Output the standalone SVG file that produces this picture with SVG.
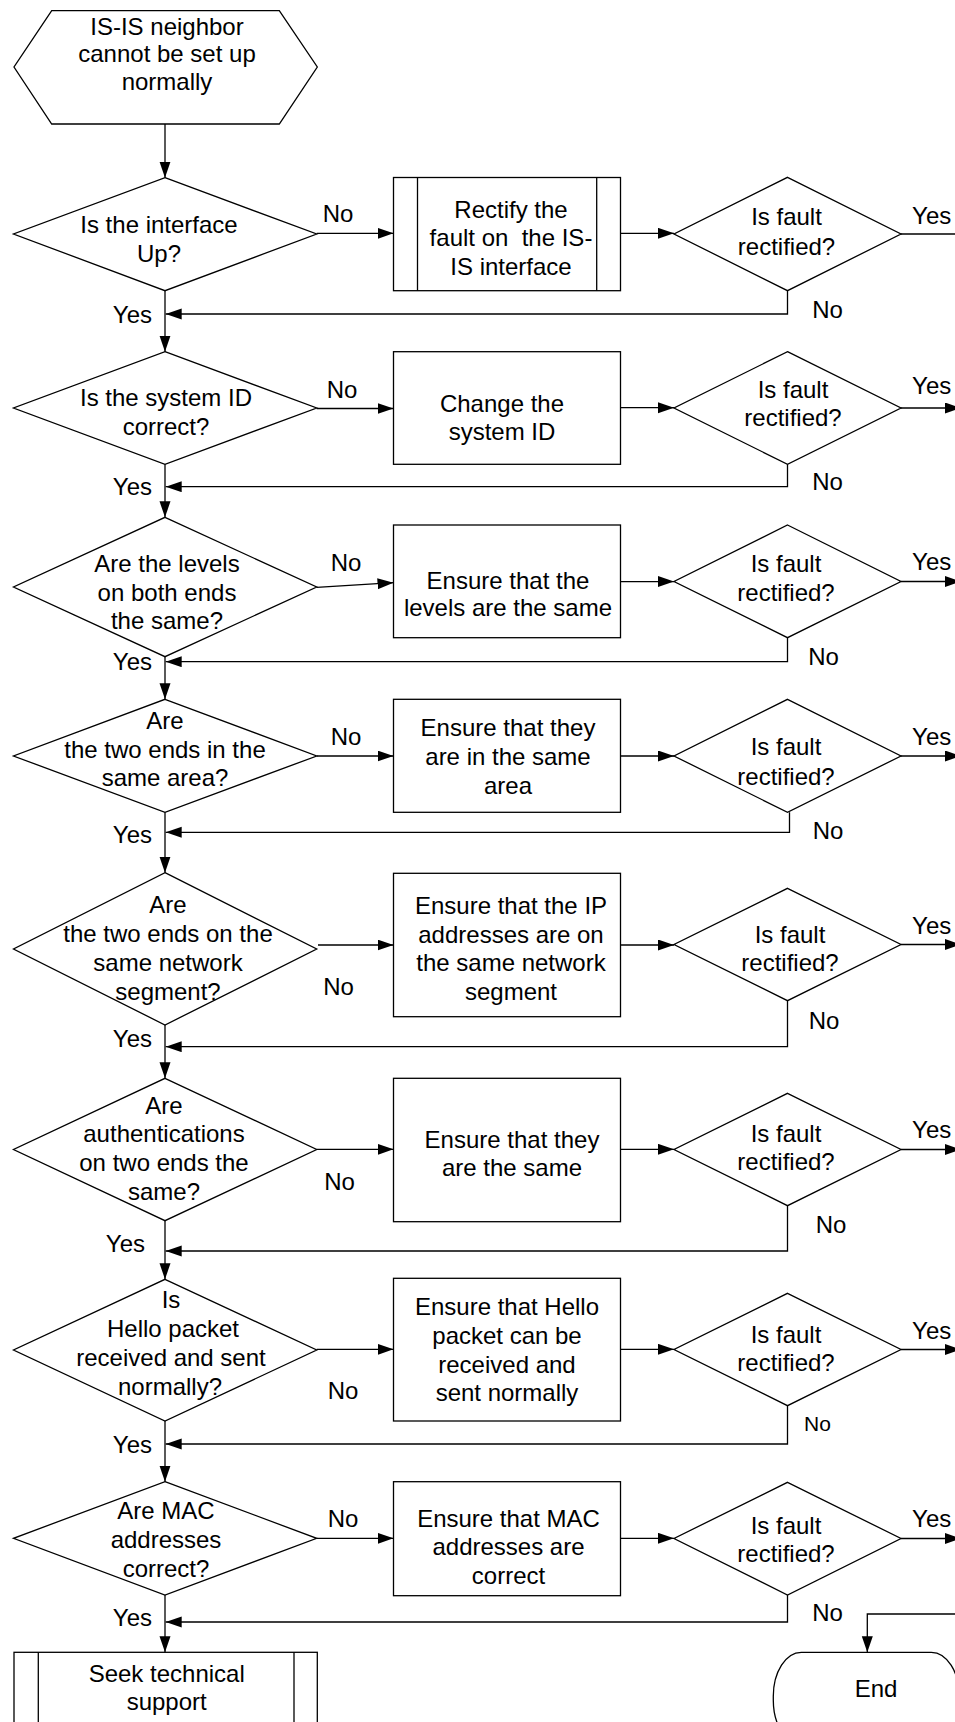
<svg xmlns="http://www.w3.org/2000/svg" width="955" height="1722" viewBox="0 0 955 1722">
<defs>
<marker id="ah" markerUnits="userSpaceOnUse" markerWidth="17" markerHeight="12" refX="16" refY="5.5" orient="auto"><path d="M0,0 L16,5.5 L0,11 z" fill="#000"/></marker>
<style>
.s{fill:#fff;stroke:#000;stroke-width:1.3}
.c{fill:none;stroke:#000;stroke-width:1.3}
text{font-family:"Liberation Sans",Arial,sans-serif;font-size:24px;fill:#000;text-anchor:middle}
.e{text-anchor:end}
.sm{font-size:21px}
</style>
</defs>
<rect width="955" height="1722" fill="#fff"/>

<g id="start">
<polygon class="s" points="51.7,10.7 279.3,10.7 317.3,67 279.3,124 51.7,124 14,67"/>
<text x="167" y="34.5">IS-IS neighbor</text>
<text x="167" y="62">cannot be set up</text>
<text x="167" y="89.5">normally</text>
</g>

<g id="d1">
<polygon class="s" points="165,177.7 316.7,234 165,290.7 13.5,234"/>
<text x="159" y="233">Is the interface</text>
<text x="159" y="261.5">Up?</text>
</g>
<g id="p1">
<rect class="s" x="393.5" y="177.5" width="227" height="113.2"/>
<line class="c" x1="417.5" y1="177.5" x2="417.5" y2="290.7"/>
<line class="c" x1="596.7" y1="177.5" x2="596.7" y2="290.7"/>
<text x="511" y="217.8">Rectify the</text>
<text x="511" y="245.8" xml:space="preserve">fault on  the IS-</text>
<text x="511" y="274.5">IS interface</text>
</g>
<g id="f1">
<polygon class="s" points="787.5,177.3 901,234 787.5,290.7 674,234"/>
<text x="786.5" y="225.2">Is fault</text>
<text x="786.5" y="255.2">rectified?</text>
</g>

<g id="d2">
<polygon class="s" points="165,351.7 316.7,408 165,464.3 13.5,408"/>
<text x="166" y="405.8">Is the system ID</text>
<text x="166" y="435.2">correct?</text>
</g>
<g id="p2">
<rect class="s" x="393.5" y="351.7" width="227" height="112.6"/>
<text x="502" y="411.8">Change the</text>
<text x="502" y="440.2">system ID</text>
</g>
<g id="f2">
<polygon class="s" points="787.5,351.7 901,408 787.5,464.3 674,408"/>
<text x="793" y="397.8">Is fault</text>
<text x="793" y="426.2">rectified?</text>
</g>

<g id="d3">
<polygon class="s" points="165,517.3 316.7,587 165,656.7 13.5,587"/>
<text x="167" y="571.8">Are the levels</text>
<text x="167" y="600.8">on both ends</text>
<text x="167" y="629.2">the same?</text>
</g>
<g id="p3">
<rect class="s" x="393.5" y="525" width="227" height="112.7"/>
<text x="508" y="588.5">Ensure that the</text>
<text x="508" y="615.8">levels are the same</text>
</g>
<g id="f3">
<polygon class="s" points="787.5,525 901,581.5 787.5,637.7 674,581.5"/>
<text x="786" y="571.8">Is fault</text>
<text x="786" y="600.8">rectified?</text>
</g>

<g id="d4">
<polygon class="s" points="165,699.3 316.7,756 165,812.3 13.5,756"/>
<text x="165" y="728.5">Are</text>
<text x="165" y="757.8">the two ends in the</text>
<text x="165" y="786.2">same area?</text>
</g>
<g id="p4">
<rect class="s" x="393.5" y="699.3" width="227" height="113"/>
<text x="508" y="736.2">Ensure that they</text>
<text x="508" y="765.2">are in the same</text>
<text x="508" y="793.5">area</text>
</g>
<g id="f4">
<polygon class="s" points="787.5,699.3 901,756 787.5,812.3 674,756"/>
<text x="786" y="755.2">Is fault</text>
<text x="786" y="784.5">rectified?</text>
</g>

<g id="d5">
<polygon class="s" points="165,872.7 316.7,949 165,1025 13.5,949"/>
<text x="168" y="912.5">Are</text>
<text x="168" y="941.8">the two ends on the</text>
<text x="168" y="970.8">same network</text>
<text x="168" y="999.5">segment?</text>
</g>
<g id="p5">
<rect class="s" x="393.5" y="873.3" width="227" height="143.4"/>
<text x="511" y="913.5">Ensure that the IP</text>
<text x="511" y="942.5">addresses are on</text>
<text x="511" y="970.8">the same network</text>
<text x="511" y="999.5">segment</text>
</g>
<g id="f5">
<polygon class="s" points="787.5,888.3 901,944.5 787.5,1000.7 674,944.5"/>
<text x="790" y="942.5">Is fault</text>
<text x="790" y="971.2">rectified?</text>
</g>

<g id="d6">
<polygon class="s" points="165,1078.3 316.7,1149.5 165,1220.7 13.5,1149.5"/>
<text x="164" y="1113.5">Are</text>
<text x="164" y="1141.8">authentications</text>
<text x="164" y="1170.8">on two ends the</text>
<text x="164" y="1199.5">same?</text>
</g>
<g id="p6">
<rect class="s" x="393.5" y="1078.3" width="227" height="143.4"/>
<text x="512" y="1147.8">Ensure that they</text>
<text x="512" y="1175.8">are the same</text>
</g>
<g id="f6">
<polygon class="s" points="787.5,1093.3 901,1149.5 787.5,1205.7 674,1149.5"/>
<text x="786" y="1141.8">Is fault</text>
<text x="786" y="1170.2">rectified?</text>
</g>

<g id="d7">
<polygon class="s" points="165,1279.3 316.7,1350 165,1421 13.5,1350"/>
<text x="171" y="1307.8">Is</text>
<text x="173" y="1336.8">Hello packet</text>
<text x="171" y="1365.8">received and sent</text>
<text x="170" y="1394.5">normally?</text>
</g>
<g id="p7">
<rect class="s" x="393.5" y="1278.3" width="227" height="142.7"/>
<text x="507" y="1315.2">Ensure that Hello</text>
<text x="507" y="1343.5">packet can be</text>
<text x="507" y="1372.5">received and</text>
<text x="507" y="1401.2">sent normally</text>
</g>
<g id="f7">
<polygon class="s" points="787.5,1293.3 901,1349.5 787.5,1405.7 674,1349.5"/>
<text x="786" y="1342.8">Is fault</text>
<text x="786" y="1371.2">rectified?</text>
</g>

<g id="d8">
<polygon class="s" points="165,1481.7 316.7,1538.3 165,1595 13.5,1538.3"/>
<text x="166" y="1518.5">Are MAC</text>
<text x="166" y="1547.8">addresses</text>
<text x="166" y="1576.8">correct?</text>
</g>
<g id="p8">
<rect class="s" x="393.5" y="1481.7" width="227" height="114"/>
<text x="508.5" y="1526.8">Ensure that MAC</text>
<text x="508.5" y="1555.2">addresses are</text>
<text x="508.5" y="1583.5">correct</text>
</g>
<g id="f8">
<polygon class="s" points="787.5,1482.3 901,1538.5 787.5,1595 674,1538.5"/>
<text x="786" y="1533.5">Is fault</text>
<text x="786" y="1561.8">rectified?</text>
</g>

<g id="support">
<rect class="s" x="14" y="1652.3" width="303.3" height="90"/>
<line class="c" x1="38.3" y1="1652.3" x2="38.3" y2="1742"/>
<line class="c" x1="294" y1="1652.3" x2="294" y2="1742"/>
<text x="166.7" y="1682">Seek technical</text>
<text x="166.7" y="1710">support</text>
</g>

<g id="end">
<rect class="s" x="773.3" y="1652.3" width="186" height="92" rx="28" ry="44"/>
<text x="876" y="1696.7">End</text>
</g>

<g id="connectors">
<path class="c" d="M165,124 V177.7" marker-end="url(#ah)"/>
<path class="c" d="M165,290.7 V351.7" marker-end="url(#ah)"/>
<path class="c" d="M165,464.3 V517.3" marker-end="url(#ah)"/>
<path class="c" d="M165,656.7 V699.3" marker-end="url(#ah)"/>
<path class="c" d="M165,812.3 V872.7" marker-end="url(#ah)"/>
<path class="c" d="M165,1025 V1078.3" marker-end="url(#ah)"/>
<path class="c" d="M165,1220.7 V1279.3" marker-end="url(#ah)"/>
<path class="c" d="M165,1421 V1481.7" marker-end="url(#ah)"/>
<path class="c" d="M165,1595 V1652.3" marker-end="url(#ah)"/>

<path class="c" d="M316.7,233.3 H393.5" marker-end="url(#ah)"/>
<path class="c" d="M316.7,408.5 H393.5" marker-end="url(#ah)"/>
<path class="c" d="M316.7,587.3 L393.5,582.7" marker-end="url(#ah)"/>
<path class="c" d="M316.7,756 H393.5" marker-end="url(#ah)"/>
<path class="c" d="M318,945 H393.5" marker-end="url(#ah)"/>
<path class="c" d="M316.7,1149.3 H393.5" marker-end="url(#ah)"/>
<path class="c" d="M316.7,1349.3 H393.5" marker-end="url(#ah)"/>
<path class="c" d="M316.7,1538.3 H393.5" marker-end="url(#ah)"/>

<path class="c" d="M620.5,233.3 H674" marker-end="url(#ah)"/>
<path class="c" d="M620.5,407.7 H674" marker-end="url(#ah)"/>
<path class="c" d="M620.5,581.6 H674" marker-end="url(#ah)"/>
<path class="c" d="M620.5,756 H674" marker-end="url(#ah)"/>
<path class="c" d="M620.5,945 H674" marker-end="url(#ah)"/>
<path class="c" d="M620.5,1149.3 H674" marker-end="url(#ah)"/>
<path class="c" d="M620.5,1349.3 H674" marker-end="url(#ah)"/>
<path class="c" d="M620.5,1538.3 H674" marker-end="url(#ah)"/>

<path class="c" d="M901,234 H956"/>
<path class="c" d="M901,408 H961" marker-end="url(#ah)"/>
<path class="c" d="M901,581.5 H961" marker-end="url(#ah)"/>
<path class="c" d="M901,756 H961" marker-end="url(#ah)"/>
<path class="c" d="M901,944.5 H961" marker-end="url(#ah)"/>
<path class="c" d="M901,1149.5 H961" marker-end="url(#ah)"/>
<path class="c" d="M901,1349.5 H961" marker-end="url(#ah)"/>
<path class="c" d="M901,1538.5 H961" marker-end="url(#ah)"/>

<path class="c" d="M787.5,290.7 V314 H165.7" marker-end="url(#ah)"/>
<path class="c" d="M787.5,464.3 V486.7 H165.7" marker-end="url(#ah)"/>
<path class="c" d="M787.5,637.7 V661.7 H165.7" marker-end="url(#ah)"/>
<path class="c" d="M789.5,812.3 V832.3 H165.7" marker-end="url(#ah)"/>
<path class="c" d="M787.5,1000.7 V1046.7 H165.7" marker-end="url(#ah)"/>
<path class="c" d="M787.5,1205.7 V1251 H165.7" marker-end="url(#ah)"/>
<path class="c" d="M787.5,1405.7 V1444 H165.7" marker-end="url(#ah)"/>
<path class="c" d="M787.5,1595 V1622 H165.7" marker-end="url(#ah)"/>

<path class="c" d="M960,1614 H867.3 V1652.3" marker-end="url(#ah)"/>

<text x="338" y="222">No</text>
<text x="342" y="398">No</text>
<text x="346" y="571">No</text>
<text x="346" y="745">No</text>
<text x="338.5" y="995">No</text>
<text x="339.5" y="1190">No</text>
<text x="343" y="1398.5">No</text>
<text x="343" y="1527">No</text>

<text x="931.7" y="223.5">Yes</text>
<text x="931.7" y="393.5">Yes</text>
<text x="931.7" y="570">Yes</text>
<text x="931.7" y="744.5">Yes</text>
<text x="931.7" y="933.5">Yes</text>
<text x="931.7" y="1138">Yes</text>
<text x="931.7" y="1339">Yes</text>
<text x="931.7" y="1527">Yes</text>

<text x="827.5" y="318">No</text>
<text x="827.5" y="490">No</text>
<text x="823.5" y="664.5">No</text>
<text x="828" y="838.5">No</text>
<text x="824" y="1028.5">No</text>
<text x="831" y="1232.5">No</text>
<text class="sm" x="817.5" y="1431">No</text>
<text x="827.5" y="1621">No</text>

<text class="e" x="152" y="322.5">Yes</text>
<text class="e" x="152" y="495">Yes</text>
<text class="e" x="152" y="669.5">Yes</text>
<text class="e" x="152" y="843">Yes</text>
<text class="e" x="152" y="1046.8">Yes</text>
<text class="e" x="145" y="1252">Yes</text>
<text class="e" x="152" y="1452.5">Yes</text>
<text class="e" x="152" y="1626">Yes</text>
</g>
</svg>
